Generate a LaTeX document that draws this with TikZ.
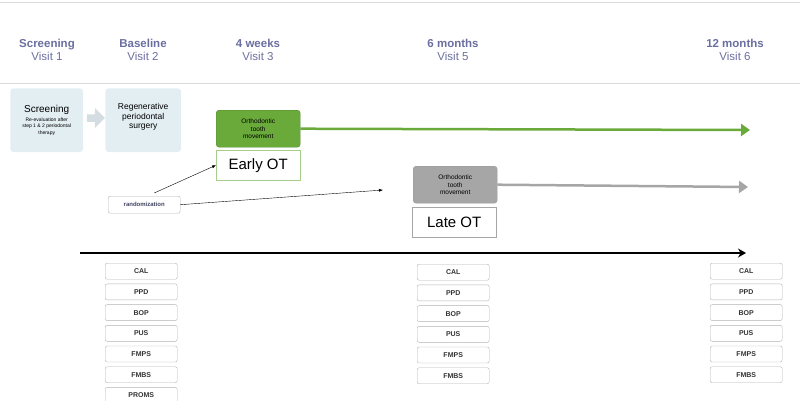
\documentclass[tikz,border=0pt]{standalone}
\usepackage{fontspec}
\setmainfont{Liberation Sans}
\usetikzlibrary{arrows.meta,shapes.arrows}
\definecolor{hdr}{HTML}{6A6FA0}
\definecolor{okgreen}{HTML}{6AAA3A}
\definecolor{lightbox}{HTML}{E3EEF3}
\begin{document}
\begin{tikzpicture}[x=1pt,y=-1pt,
  hdrtxt/.style={align=center,text=hdr,font=\fontsize{11.5}{13}\selectfont},
  bluebox/.style={draw=white,fill=lightbox,rounded corners=3pt,minimum width=73pt,minimum height=64pt,anchor=north west,align=center,font=\fontsize{8.5}{9.5}\selectfont},
  measbox/.style={draw=gray!60,rounded corners=2pt,minimum width=72pt,minimum height=16pt,anchor=north west,font=\bfseries\fontsize{7}{8}\selectfont,text=black!80},
  otbox/.style={rounded corners=3pt,minimum width=84pt,minimum height=37pt,anchor=north west,align=center,font=\fontsize{6.5}{7.5}\selectfont},
  labbox/.style={draw=gray!70,minimum width=84pt,minimum height=30pt,anchor=north west,font=\fontsize{15}{17}\selectfont}]
\useasboundingbox (0,0) rectangle (800,400);
\draw[gray!30,line width=1pt] (0,2) -- (800,2);
\draw[gray!30,line width=1pt] (0,83) -- (800,83);
\node[hdrtxt] (h1) at (47,50) {\textbf{Screening}\\Visit 1};
\node[hdrtxt] (h2) at (143,50) {\textbf{Baseline}\\Visit 2};
\node[hdrtxt] (h3) at (258,50) {\textbf{4 weeks}\\Visit 3};
\node[hdrtxt] (h5) at (453,50) {\textbf{6 months}\\Visit 5};
\node[hdrtxt] (h6) at (735,50) {\textbf{12 months}\\Visit 6};
\node[bluebox] (scr) at (10,88) {{\fontsize{10}{11}\selectfont Screening}\\[-1pt]{\fontsize{5}{5.5}\selectfont Re-evaluation after}\\[-3pt]{\fontsize{5}{5.5}\selectfont step 1 \& 2 periodontal}\\[-3pt]{\fontsize{5}{5.5}\selectfont therapy}};
\node[single arrow,fill=lightbox!85!gray,minimum height=18pt,minimum width=20pt,single arrow head extend=2pt,inner sep=1pt] (chev) at (94,118) {};
\node[bluebox,minimum width=76pt] (reg) at (105,88) {\\[-18pt]Regenerative\\periodontal\\surgery};
\node[otbox,fill=okgreen,draw=okgreen!80!black] (grn) at (216,110) {Orthodontic\\tooth\\movement};
\node[labbox,draw=okgreen!60] (early) at (216,150) {Early OT};
\node[otbox,fill=gray!70,draw=gray!80] (gry) at (413,166) {Orthodontic\\tooth\\movement};
\node[labbox] (late) at (412,207) {Late OT};
\node[draw=gray!60,rounded corners=2pt,minimum width=72pt,minimum height=17pt,anchor=north west,text=hdr!60!black,font=\bfseries\fontsize{6}{7}\selectfont] (rand) at (108,196) {randomization};
\coordinate (lateend) at (383,190);
\draw[-{Latex[length=4pt]},thin] (rand.north) ++(10,-3) -- (early.west);
\draw[-{Latex[length=4pt]},thin] (rand.east) -- (lateend);
\draw[okgreen,line width=2.5pt,-{Stealth[length=9pt,width=12pt,inset=0pt]}] (grn.east) -- (750,130) coordinate (ge);
\draw[gray!70,line width=2.5pt,-{Stealth[length=9pt,width=12pt,inset=0pt]}] (gry.east) -- (748,187) coordinate (ye);
\coordinate (t0) at (80,253);
\coordinate (t1) at (746,253);
\draw[line width=1.2pt,-{Stealth[length=8pt,width=9pt]}] (t0) -- (t1);
\foreach \n [count=\i from 0] in {CAL,PPD,BOP,PUS,FMPS,FMBS,PROMS}
  \node[measbox] (a\i) at (105,263+20.7*\i) {\n};
\foreach \n [count=\i from 0] in {CAL,PPD,BOP,PUS,FMPS,FMBS}
  \node[measbox] (b\i) at (417,264+20.7*\i) {\n};
\foreach \n [count=\i from 0] in {CAL,PPD,BOP,PUS,FMPS,FMBS}
  \node[measbox] (c\i) at (710,263+20.7*\i) {\n};
\end{tikzpicture}
\end{document}
